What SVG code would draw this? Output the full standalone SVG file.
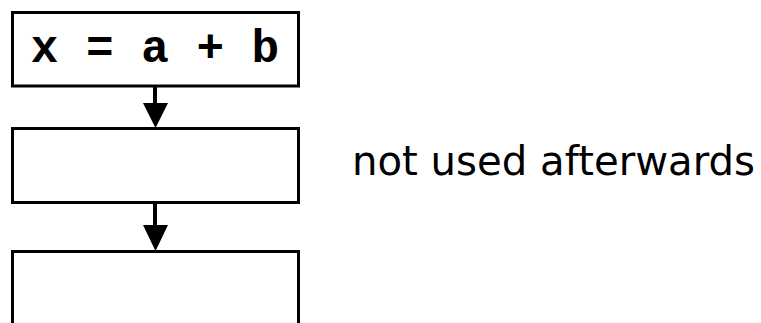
<svg xmlns="http://www.w3.org/2000/svg" width="761" height="323" viewBox="0 0 761 323">
  <defs>
    <style>
      .box { fill: #ffffff; stroke: #000000; stroke-width: 3; }
      .edge { stroke: #000000; stroke-width: 4; fill: none; }
      .head { fill: #000000; }
      .code { font-family: "Liberation Mono", "Courier New", monospace; font-weight: bold; font-size: 46px; fill: #000000; }
      .note { font-family: "DejaVu Sans", "Liberation Sans", sans-serif; font-size: 40px; fill: #000000; }
    </style>
  </defs>
  <rect width="761" height="323" fill="#ffffff"/>

  <g id="connectors">
    <line class="edge" x1="155" y1="86" x2="155" y2="106"/>
    <polygon class="head" points="143,103 168,103 155.5,128"/>
    <line class="edge" x1="155" y1="203" x2="155" y2="228"/>
    <polygon class="head" points="143,225 168,225 155.5,251"/>
  </g>

  <g id="node-assign">
    <rect class="box" x="12.5" y="12.5" width="286" height="73.5"/>
    <text class="code" x="155" y="62" text-anchor="middle">x = a + b</text>
  </g>

  <g id="node-middle">
    <rect class="box" x="12.5" y="128.5" width="286" height="74"/>
  </g>

  <g id="node-bottom">
    <path class="box" d="M12.5,330 V251.5 H298.5 V330"/>
  </g>

  <g id="note">
    <text class="note" x="352" y="175" textLength="403" lengthAdjust="spacingAndGlyphs">not used afterwards</text>
  </g>
</svg>
